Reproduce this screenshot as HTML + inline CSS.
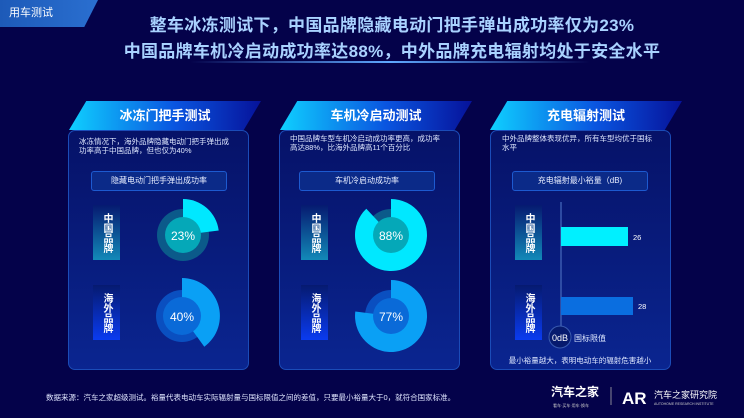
<!DOCTYPE html>
<html><head><meta charset="utf-8"><style>
*{margin:0;padding:0;box-sizing:border-box}
body{width:744px;height:418px;overflow:hidden;background:#04024a;font-family:"Liberation Sans","Noto Sans CJK SC",sans-serif;position:relative;color:#fff}
.abs{position:absolute}
.tab{left:0;top:0;width:98px;height:27px;background:linear-gradient(90deg,#1d5ab8,#2a6fd0);clip-path:polygon(0 0,100% 0,86% 100%,0 100%);font-size:11px;line-height:27px;padding-left:9px}
.title{left:72px;width:640px;text-align:center;font-size:17px;font-weight:bold;color:#a9d2ff;white-space:nowrap;letter-spacing:0.3px}
.hdr{height:29px;width:192px;background:linear-gradient(90deg,#0fd0ff,#0a55e0 55%,#06129a);clip-path:polygon(9% 0,100% 0,91% 100%,0 100%);font-size:13px;font-weight:bold;text-align:center;line-height:29px}
.box{width:181px;height:240px;border:1px solid #1b4cb8;border-radius:7px;background:linear-gradient(180deg,#061268,#0a2590)}
.desc{font-size:7.5px;line-height:9px;color:#dfe8ff;width:150px}
.sub{width:136px;height:20px;border:1px solid #1d5ad0;border-radius:3px;background:#0b2a88;font-size:8px;text-align:center;line-height:18px;color:#e8eeff}
.lab{width:27px;height:55px;font-size:10px;font-weight:bold;writing-mode:vertical-rl;text-orientation:upright;text-align:center;line-height:27px;letter-spacing:0}
.cn{background:linear-gradient(180deg,#061a70,#1289b8)}
.os{background:linear-gradient(180deg,#061a70,#0a3bf0)}
.foot{left:46px;top:392px;font-size:7.5px;color:#e0e6ff}
</style></head><body>
<div class="abs tab">用车测试</div>
<div class="abs title" style="top:11px">整车冰冻测试下，中国品牌隐藏电动门把手弹出成功率仅为23%</div>
<div class="abs title" style="top:37px">中国品牌车机冷启动成功率达88%，中外品牌充电辐射均处于安全水平</div>
<div class="abs" style="left:190px;top:61px;width:400px;height:2px;background:linear-gradient(90deg,transparent,#5fa8ff,transparent)"></div>

<!-- Panel 1 -->
<div class="abs box" style="left:68px;top:130px"></div>
<div class="abs hdr" style="left:69px;top:101px">冰冻门把手测试</div>
<div class="abs desc" style="left:79px;top:137px">冰冻情况下，海外品牌隐藏电动门把手弹出成功率高于中国品牌，但也仅为40%</div>
<div class="abs sub" style="left:91px;top:171px">隐藏电动门把手弹出成功率</div>
<div class="abs lab cn" style="left:93px;top:205px">中国品牌</div>
<div class="abs lab os" style="left:93px;top:285px">海外品牌</div>

<!-- Panel 2 -->
<div class="abs box" style="left:279px;top:130px"></div>
<div class="abs hdr" style="left:280px;top:101px">车机冷启动测试</div>
<div class="abs desc" style="left:290px;top:134px">中国品牌车型车机冷启动成功率更高，成功率高达88%，比海外品牌高11个百分比</div>
<div class="abs sub" style="left:299px;top:171px">车机冷启动成功率</div>
<div class="abs lab cn" style="left:301px;top:205px">中国品牌</div>
<div class="abs lab os" style="left:301px;top:285px">海外品牌</div>

<!-- Panel 3 -->
<div class="abs box" style="left:490px;top:130px"></div>
<div class="abs hdr" style="left:490px;top:101px">充电辐射测试</div>
<div class="abs desc" style="left:502px;top:134px">中外品牌整体表现优异，所有车型均优于国标水平</div>
<div class="abs sub" style="left:512px;top:171px">充电辐射最小裕量（dB)</div>
<div class="abs lab cn" style="left:515px;top:205px">中国品牌</div>
<div class="abs lab os" style="left:515px;top:285px">海外品牌</div>

<svg class="abs" style="left:0;top:0" width="744" height="418">
<circle cx="183" cy="235" r="26" fill="#0b5a8a"/>
<path d="M183,235 L183,199 A36,36 0 0 1 218.7,230.5 Z" fill="#00e8ff"/>
<circle cx="183" cy="235" r="18" fill="#05a8b8"/>
<text x="183" y="240" font-size="12" fill="#fff" text-anchor="middle" font-family="Liberation Sans">23%</text>
<circle cx="182" cy="316" r="26" fill="#0a4fc0"/>
<path d="M182,316 L182,278 A38,38 0 0 1 204.3,346.7 Z" fill="#0aa0f5"/>
<circle cx="182" cy="316" r="19" fill="#0a6ad8"/>
<text x="182" y="321" font-size="12" fill="#fff" text-anchor="middle" font-family="Liberation Sans">40%</text>
<circle cx="391" cy="235" r="26" fill="#0b5a8a"/>
<path d="M391,235 L391,199 A36,36 0 1 1 366.3,208.8 Z" fill="#00e8ff"/>
<circle cx="391" cy="235" r="18" fill="#05a8b8"/>
<text x="391" y="240" font-size="12" fill="#fff" text-anchor="middle" font-family="Liberation Sans">88%</text>
<circle cx="391" cy="316" r="26" fill="#0a4fc0"/>
<path d="M391,316 L391,280 A36,36 0 1 1 355.3,311.5 Z" fill="#0aa0f5"/>
<circle cx="391" cy="316" r="18" fill="#0a6ad8"/>
<text x="391" y="321" font-size="12" fill="#fff" text-anchor="middle" font-family="Liberation Sans">77%</text>
<line x1="561" y1="202" x2="561" y2="330" stroke="#3a5bb0" stroke-width="1.5"/>
<rect x="561" y="227" width="67" height="19" fill="#00f0ff"/>
<text x="633" y="240" font-size="7.5" fill="#fff" font-family="Liberation Sans">26</text>
<rect x="561" y="297" width="72" height="18" fill="#0a6ee0"/>
<text x="638" y="309" font-size="7.5" fill="#fff" font-family="Liberation Sans">28</text>
<circle cx="560" cy="337" r="11" fill="#071a6e" stroke="#3a5bb0" stroke-width="1"/>
<text x="560" y="341" font-size="9" fill="#fff" text-anchor="middle" font-family="Liberation Sans">0dB</text>
<text x="574" y="341" font-size="8" fill="#dfe8ff" font-family="Liberation Sans,Noto Sans CJK SC,sans-serif">国标限值</text>
<text x="580" y="363" font-size="7.5" fill="#dfe8ff" text-anchor="middle" font-family="Liberation Sans,Noto Sans CJK SC,sans-serif">最小裕量越大，表明电动车的辐射危害越小</text>
<text x="551" y="396" font-size="12" font-weight="bold" fill="#fff" font-family="Liberation Sans,Noto Sans CJK SC,sans-serif">汽车之家</text>
<text x="553" y="407" font-size="4" fill="#ccc" font-family="Liberation Sans,Noto Sans CJK SC,sans-serif">看车·买车·用车·换车</text>
<line x1="611" y1="387" x2="611" y2="405" stroke="#aaa" stroke-width="0.8"/>
<text x="622" y="404" font-size="17" font-weight="bold" fill="#fff" font-family="Liberation Sans">AR</text>
<text x="654" y="398" font-size="9" fill="#fff" font-family="Liberation Sans,Noto Sans CJK SC,sans-serif">汽车之家研究院</text>
<text x="654" y="405" font-size="3.5" fill="#ccc" font-family="Liberation Sans">AUTOHOME RESEARCH INSTITUTE</text>
</svg>
<div class="abs foot">数据来源：汽车之家超级测试。裕量代表电动车实际辐射量与国标限值之间的差值，只要最小裕量大于0，就符合国家标准。</div>
</body></html>
